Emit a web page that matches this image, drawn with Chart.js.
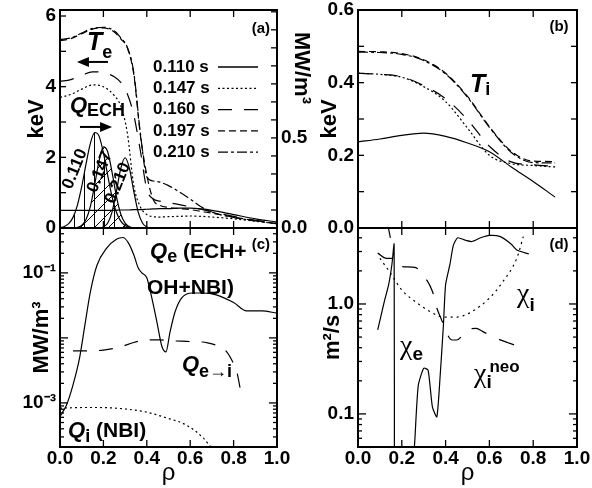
<!DOCTYPE html>
<html>
<head>
<meta charset="utf-8">
<title>Te, Ti, power density and diffusivity profiles</title>
<script src="https://cdn.jsdelivr.net/npm/chart.js@4.4.1/dist/chart.umd.min.js"></script>
<style>
  body { margin: 0; background: #fff; }
  #fig { position: relative; width: 592px; height: 488px; }
  #fig canvas { position: absolute; left: 0; top: 0; }
</style>
</head>
<body>
<div id="fig">
  <canvas id="panelA" width="592" height="488"></canvas>
  <canvas id="panelB" width="592" height="488"></canvas>
  <canvas id="panelC" width="592" height="488"></canvas>
  <canvas id="panelD" width="592" height="488"></canvas>
</div>
<script>
// ---- values ----
const rhoTicks = [0, 0.2, 0.4, 0.6, 0.8, 1.0];
const times = ['0.110 s', '0.147 s', '0.160 s', '0.197 s', '0.210 s'];

// (a) electron temperature, keV
const rhoTe = [0, 0.05, 0.1, 0.15, 0.2, 0.25, 0.28, 0.31, 0.34, 0.37, 0.4, 0.43, 0.46, 0.5, 0.55, 0.6, 0.65, 0.7, 0.8, 0.9, 1.0];
const te110 = [0.5, 0.5, 0.5, 0.5, 0.5, 0.5, 0.51, 0.51, 0.52, 0.52, 0.53, 0.54, 0.55, 0.55, 0.56, 0.56, 0.54, 0.5, 0.38, 0.26, 0.17];
const te147 = [3.7, 3.78, 3.93, 4.05, 4.0, 3.75, 3.45, 2.7, 1.2, 0.6, 0.38, 0.32, 0.31, 0.32, 0.33, 0.34, 0.33, 0.31, 0.26, 0.19, 0.12];
const te160 = [4.15, 4.2, 4.32, 4.42, 4.4, 4.28, 4.12, 3.8, 3.2, 2.2, 1.1, 0.82, 0.76, 0.72, 0.66, 0.6, 0.53, 0.46, 0.33, 0.22, 0.14];
const te197 = [5.3, 5.36, 5.5, 5.63, 5.66, 5.55, 5.35, 5.1, 4.35, 2.65, 1.5, 0.8, 0.64, 0.58, 0.55, 0.52, 0.47, 0.42, 0.31, 0.21, 0.13];
const te210 = [5.33, 5.38, 5.52, 5.65, 5.68, 5.58, 5.38, 5.12, 4.4, 2.7, 1.45, 1.33, 1.3, 1.2, 1.02, 0.82, 0.6, 0.45, 0.3, 0.2, 0.12];

// (a) ECH power deposition, MW/m3
const rhoQ = [0, 0.02, 0.04, 0.06, 0.08, 0.1, 0.12, 0.14, 0.16, 0.18, 0.2, 0.22, 0.24, 0.26, 0.28, 0.3, 0.32, 0.34, 0.36, 0.38, 0.4, 0.42];
const qech110 = [0.002, 0.008, 0.024, 0.059, 0.126, 0.229, 0.356, 0.47, 0.53, 0.51, 0.418, 0.291, 0.173, 0.087, 0.038, 0.014, 0.004, 0.001, 0, 0, 0, 0];
const qech147 = [0, 0, 0, 0.001, 0.003, 0.014, 0.047, 0.12, 0.241, 0.373, 0.45, 0.422, 0.309, 0.176, 0.078, 0.027, 0.007, 0.002, 0, 0, 0, 0];
const qech210 = [0, 0, 0, 0, 0, 0, 0, 0, 0, 0.001, 0.006, 0.028, 0.09, 0.203, 0.331, 0.39, 0.331, 0.203, 0.09, 0.028, 0.006, 0.001];

// (b) ion temperature, keV
const rhoTi = [0, 0.1, 0.2, 0.3, 0.4, 0.5, 0.6, 0.7, 0.8, 0.9];
const ti110 = [0.237, 0.245, 0.255, 0.261, 0.252, 0.234, 0.21, 0.168, 0.128, 0.085];
const ti147 = [0.426, 0.423, 0.415, 0.389, 0.348, 0.275, 0.2, 0.177, 0.172, 0.168];
const ti160 = [0.426, 0.423, 0.416, 0.392, 0.356, 0.298, 0.225, 0.182, 0.174, 0.17];
const ti197 = [0.486, 0.485, 0.48, 0.463, 0.426, 0.362, 0.279, 0.211, 0.184, 0.183];
const ti210 = [0.484, 0.483, 0.478, 0.461, 0.424, 0.36, 0.277, 0.208, 0.18, 0.179];

// (c) power densities, MW/m3
const rhoQe = [0, 0.03, 0.06, 0.09, 0.115, 0.14, 0.17, 0.215, 0.26, 0.29, 0.315, 0.34, 0.36, 0.377, 0.4, 0.42, 0.446, 0.47, 0.488, 0.507, 0.53, 0.56, 0.61, 0.66, 0.72, 0.8, 0.86, 0.93, 1.0];
const qe = [6.2e-4, 9.3e-4, 1.9e-3, 4.9e-3, 0.016, 0.051, 0.13, 0.24, 0.33, 0.35, 0.29, 0.19, 0.12, 0.10, 0.084, 0.046, 0.018, 7.3e-3, 6.1e-3, 0.0123, 0.025, 0.041, 0.049, 0.049, 0.046, 0.035, 0.026, 0.026, 0.024];
const rhoQei = [0.06, 0.12, 0.2, 0.28, 0.34, 0.4, 0.46, 0.52, 0.6, 0.68, 0.74, 0.77, 0.8, 0.815, 0.83];
const qei = [6.3e-3, 6.3e-3, 6.5e-3, 7.3e-3, 8.5e-3, 9.3e-3, 9.3e-3, 9.0e-3, 8.8e-3, 8.4e-3, 7.2e-3, 6.0e-3, 4.0e-3, 3.0e-3, 1.7e-3];
const rhoQi = [0, 0.1, 0.18, 0.31, 0.4, 0.49, 0.58, 0.66, 0.69, 0.72];
const qi = [8.3e-4, 8.5e-4, 8.5e-4, 8.0e-4, 7.2e-4, 5.9e-4, 4.6e-4, 2.9e-4, 2.2e-4, 1.8e-4];

// (d) diffusivities, m2/s (null = break in the curve)
const rhoChiE = [0.09, 0.12, 0.14, 0.155, 0.165, 0.166, 0.17, 0.13, 0.148, 0.2, 0.245, 0.26, 0.275, 0.3, 0.32, 0.34, 0.36, 0.375, 0.39, 0.4, 0.42, 0.435, 0.455, 0.49, 0.52, 0.56, 0.6, 0.65, 0.7, 0.725, 0.78];
const chiE = [0.58, 1.05, 1.5, 2.3, 3.5, 0.01, null, 6, 4.0, null, 0.02, 0.06, 0.18, 0.26, 0.25, 0.115, 0.094, 0.22, 0.64, 1.5, 2.3, 3.4, 4.0, 3.8, 3.7, 4.0, 4.2, 4.1, 3.5, 3.1, 2.85];
const rhoChiI = [0.1, 0.145, 0.2, 0.27, 0.33, 0.39, 0.45, 0.51, 0.6, 0.66, 0.725, 0.755];
const chiI = [2.6, 1.95, 1.34, 1.02, 0.85, 0.76, 0.76, 0.83, 1.13, 1.58, 2.6, 4.1];
const rhoChiNeo = [0.09, 0.13, 0.16, 0.19, 0.26, 0.3, 0.34, 0.36, 0.385, 0.4, 0.43, 0.45, 0.5, 0.54, 0.57, 0.63, 0.69, 0.75];
const chiNeo = [2.9, 2.6, 2.6, 2.2, 2.15, 1.8, 1.3, 0.92, 0.69, 0.57, 0.47, 0.47, 0.58, 0.6, 0.56, 0.49, 0.44, 0.4];

// labelled ticks
const teTicks = [0, 2, 4, 6];
const qechTicks = [0, 0.5];
const tiTicks = [0, 0.2, 0.4, 0.6];
const powerTicks = [1e-3, 1e-1];
const chiTicks = [0.1, 1];

// ---- styles ----
const FAMILY = '"Liberation Sans", Arial, sans-serif';
const font = (size, style = 'bold', family = FAMILY) => `${style} ${size}px ${family}`;
const chiFont = font(28, 'normal', '"Liberation Serif", serif');
const tickFont = { size: 19, weight: 'bold', lineHeight: 1 };
const titleFont = { size: 22, weight: 'bold' };
const dashes = [[], [2, 2.5], [14, 12], [7, 4], [10, 3, 3, 3]];
const hiddenGrid = { display: true, drawOnChartArea: false, drawTicks: true, tickLength: 4, color: 'rgba(0,0,0,0)' };

Chart.defaults.font.family = FAMILY;
Chart.defaults.color = '#000';

function hatch(size, draw) {
  const c = document.createElement('canvas');
  c.width = c.height = size;
  const g = c.getContext('2d');
  g.strokeStyle = '#000';
  g.lineWidth = 1;
  g.beginPath();
  draw(g, size);
  g.stroke();
  return g.createPattern(c, 'repeat');
}
const vHatch = hatch(10, (g, s) => { g.moveTo(4.5, 0); g.lineTo(4.5, s); });
const dHatch = hatch(14, (g, s) => { g.moveTo(0, s); g.lineTo(s, 0); });

function curve(xs, ys, dash, extra = {}) {
  return Object.assign({
    data: xs.map((x, i) => ({ x, y: ys[i] })),
    yAxisID: 'y',
    borderColor: '#000',
    borderWidth: 1.2,
    borderDash: dash,
    pointRadius: 0,
    fill: false,
    cubicInterpolationMode: 'monotone'
  }, extra);
}

function xAxis(show) {
  return {
    type: 'linear', min: 0, max: 1, display: show,
    grid: Object.assign({}, hiddenGrid, { tickLength: 2 }),
    border: { display: false },
    afterBuildTicks: s => { s.ticks = rhoTicks.map(v => ({ value: v })); },
    afterFit: s => { s.height = show ? 41 : 0; },
    ticks: { font: tickFont, padding: 0, autoSkip: false, maxRotation: 0, callback: v => v.toFixed(1) },
    title: { display: true, text: 'ρ', font: { size: 24, weight: 'normal' }, padding: { top: 0, bottom: 0 } }
  };
}

function yAxis(o) {
  return {
    type: o.log ? 'logarithmic' : 'linear',
    position: o.pos || 'left',
    min: o.min, max: o.max,
    grid: hiddenGrid,
    border: { display: false },
    afterBuildTicks: s => { s.ticks = o.ticks.map(v => ({ value: v })); },
    afterFit: s => { s.width = o.width; },
    ticks: { font: tickFont, padding: 0, autoSkip: false, callback: o.fmt },
    title: o.title
      ? { display: true, text: o.title, font: titleFont, padding: { top: o.titlePad, bottom: 0 } }
      : { display: false }
  };
}

// inward tick marks on all four sides plus the frame
function framePlugin(sides) {
  return {
    id: 'frame',
    afterDatasetsDraw(chart) {
      const { ctx, chartArea: a, scales } = chart;
      const seg = (x0, y0, x1, y1) => { ctx.beginPath(); ctx.moveTo(x0, y0); ctx.lineTo(x1, y1); ctx.stroke(); };
      ctx.save();
      ctx.strokeStyle = '#000';
      ctx.lineWidth = 1.3;
      rhoTicks.forEach(v => {
        const p = scales.x.getPixelForValue(v);
        seg(p, a.bottom, p, a.bottom - 7);
        seg(p, a.top, p, a.top + 7);
      });
      sides.forEach(s => {
        const sc = scales[s.id];
        const marks = [];
        if (s.log) {
          for (let e = Math.floor(Math.log10(sc.min)); e <= Math.ceil(Math.log10(sc.max)); e++) {
            for (let m = 1; m < 10; m++) marks.push([m * Math.pow(10, e), m === 1 ? 8 : 4]);
          }
        } else {
          for (let k = 0; k * s.step <= sc.max + 1e-9; k++) marks.push([k * s.step, 6]);
        }
        marks.forEach(([v, len]) => {
          if (v < sc.min || v > sc.max) return;
          const p = sc.getPixelForValue(v);
          if (s.left) seg(a.left, p, a.left + len, p);
          if (s.right) seg(a.right, p, a.right - len, p);
        });
      });
      ctx.lineWidth = 2;
      ctx.strokeRect(a.left, a.top, a.width, a.height);
      ctx.restore();
    }
  };
}

function rich(ctx, parts, align) {
  let w = 0;
  parts.forEach(p => { ctx.font = p[1]; w += ctx.measureText(p[0]).width; });
  let cx = align === 'center' ? -w / 2 : 0;
  parts.forEach(p => {
    ctx.font = p[1];
    ctx.fillText(p[0], cx, p[2] || 0);
    cx += ctx.measureText(p[0]).width;
  });
}

// labels, arrows and the in-plot legend
function notesPlugin(spec) {
  return {
    id: 'notes',
    afterDraw(chart) {
      const { ctx, chartArea: a, scales } = chart;
      ctx.save();
      ctx.fillStyle = '#000';
      ctx.strokeStyle = '#000';
      (spec.texts || []).forEach(n => {
        ctx.save();
        ctx.translate(scales.x.getPixelForValue(n.x), scales[n.ax || 'y'].getPixelForValue(n.y));
        if (n.rot) ctx.rotate(n.rot * Math.PI / 180);
        ctx.textBaseline = n.base || 'alphabetic';
        rich(ctx, n.parts, n.align);
        ctx.restore();
      });
      (spec.arrows || []).forEach(r => {
        const y = scales.y.getPixelForValue(r.y);
        const x0 = scales.x.getPixelForValue(r.from);
        const x1 = scales.x.getPixelForValue(r.to);
        const d = Math.sign(x1 - x0);
        ctx.lineWidth = 2;
        ctx.beginPath(); ctx.moveTo(x0, y); ctx.lineTo(x1 - d * 8, y); ctx.stroke();
        ctx.beginPath(); ctx.moveTo(x1, y); ctx.lineTo(x1 - d * 12, y - 5); ctx.lineTo(x1 - d * 12, y + 5); ctx.closePath(); ctx.fill();
      });
      const L = spec.legend;
      if (L) {
        L.items.forEach((idx, i) => {
          const ds = chart.data.datasets[idx];
          const yy = a.top + L.top + i * L.row;
          ctx.font = font(17);
          ctx.textBaseline = 'middle';
          ctx.fillText(ds.label, a.left + L.left, yy);
          ctx.lineWidth = 1.3;
          ctx.setLineDash(ds.borderDash);
          ctx.beginPath(); ctx.moveTo(a.left + L.x0, yy); ctx.lineTo(a.left + L.x1, yy); ctx.stroke();
          ctx.setLineDash([]);
        });
      }
      ctx.restore();
    }
  };
}

const baseOptions = (padding, scales) => ({
  responsive: false,
  animation: false,
  layout: { padding },
  scales,
  plugins: { legend: { display: false }, tooltip: { enabled: false } }
});

// ---- (a) Te and Q_ECH ----
new Chart(document.getElementById('panelA'), {
  type: 'line',
  data: {
    datasets: [
      curve(rhoTe, te110, dashes[0], { label: times[0] }),
      curve(rhoTe, te147, dashes[1], { label: times[1] }),
      curve(rhoTe, te160, dashes[2], { label: times[2] }),
      curve(rhoTe, te197, dashes[3], { label: times[3] }),
      curve(rhoTe, te210, dashes[4], { label: times[4] }),
      curve(rhoQ, qech110, [], { yAxisID: 'y2', fill: 'origin', backgroundColor: vHatch }),
      curve(rhoQ, qech147, [], { yAxisID: 'y2', fill: 'origin', backgroundColor: dHatch }),
      curve(rhoQ, qech210, [], { yAxisID: 'y2' })
    ]
  },
  options: baseOptions({ left: 10, right: 273, top: 10, bottom: 260 }, {
    x: xAxis(false),
    y: yAxis({ min: 0, max: 6.17, ticks: teTicks, width: 50, title: 'keV', titlePad: 14, fmt: v => String(v) }),
    y2: yAxis({ pos: 'right', min: 0, max: 1.21, ticks: qechTicks, width: 42, fmt: v => v.toFixed(1) })
  }),
  plugins: [
    framePlugin([{ id: 'y', step: 1, left: true }, { id: 'y2', step: 0.1, right: true }]),
    notesPlugin({
      texts: [
        { x: 0.926, y: 5.65, align: 'center', base: 'middle', parts: [['(a)', font(15)]] },
        { x: 0.124, y: 5.04, parts: [['T', font(25, 'italic bold')], ['e', font(18), 8]] },
        { x: 0.046, y: 3.28, parts: [['Q', font(22, 'italic bold')], ['ECH', font(18), 4]] },
        { x: 0.069, y: 1.67, rot: -68, align: 'center', base: 'middle', parts: [['0.110', font(17)]] },
        { x: 0.184, y: 1.585, rot: -68, align: 'center', base: 'middle', parts: [['0.147', font(17)]] },
        { x: 0.267, y: 1.27, rot: -68, align: 'center', base: 'middle', parts: [['0.210', font(17)]] },
        { x: 1.111, y: 5.55, rot: 90, base: 'middle', parts: [['MW/m³', font(22)]] }
      ],
      arrows: [{ from: 0.221, to: 0.078, y: 4.70 }, { from: 0.092, to: 0.240, y: 2.86 }],
      legend: { items: [0, 1, 2, 3, 4], left: 93, top: 57, row: 21.3, x0: 158, x1: 198 }
    })
  ]
});

// ---- (b) Ti ----
new Chart(document.getElementById('panelB'), {
  type: 'line',
  data: {
    datasets: [
      curve(rhoTi, ti110, dashes[0]),
      curve(rhoTi, ti147, dashes[1]),
      curve(rhoTi, ti160, dashes[2]),
      curve(rhoTi, ti197, dashes[3]),
      curve(rhoTi, ti210, dashes[4])
    ]
  },
  options: baseOptions({ left: 308, right: 15, top: 10, bottom: 260 }, {
    x: xAxis(false),
    y: yAxis({ min: 0, max: 0.6, ticks: tiTicks, width: 50, title: 'keV', titlePad: 9, fmt: v => v.toFixed(1) })
  }),
  plugins: [
    framePlugin([{ id: 'y', step: 0.1, left: true, right: true }]),
    notesPlugin({
      texts: [
        { x: 0.918, y: 0.554, align: 'center', base: 'middle', parts: [['(b)', font(15)]] },
        { x: 0.511, y: 0.375, parts: [['T', font(25, 'italic bold')], ['i', font(18), 3]] }
      ]
    })
  ]
});

// ---- (c) power densities ----
new Chart(document.getElementById('panelC'), {
  type: 'line',
  data: {
    datasets: [
      curve(rhoQe, qe, []),
      curve(rhoQei, qei, [14, 12]),
      curve(rhoQi, qi, [2, 3])
    ]
  },
  options: baseOptions({ left: 10, right: 315, top: 228, bottom: 0 }, {
    x: xAxis(true),
    y: yAxis({ log: true, min: 2.1e-4, max: 0.49, ticks: powerTicks, width: 50, title: 'MW/m³', titlePad: 19,
               fmt: v => (v === 1e-1 ? '10⁻¹' : '10⁻³') })
  }),
  plugins: [
    framePlugin([{ id: 'y', log: true, left: true, right: true }]),
    notesPlugin({
      texts: [
        { x: 0.926, y: 0.27, align: 'center', base: 'middle', parts: [['(c)', font(15)]] },
        { x: 0.415, y: 0.17, parts: [['Q', font(22, 'italic bold')], ['e', font(18), 4], [' (ECH+', font(21)]] },
        { x: 0.401, y: 0.0475, parts: [['OH+NBI)', font(21)]] },
        { x: 0.562, y: 3.1e-3, parts: [['Q', font(22, 'italic bold')], ['e→i', font(18), 6]] },
        { x: 0.037, y: 3.0e-4, parts: [['Q', font(22, 'italic bold')], ['i', font(18), 5], [' (NBI)', font(21)]] }
      ]
    })
  ]
});

// ---- (d) diffusivities ----
new Chart(document.getElementById('panelD'), {
  type: 'line',
  data: {
    datasets: [
      curve(rhoChiE, chiE, [], { cubicInterpolationMode: 'default', tension: 0.2 }),
      curve(rhoChiI, chiI, [2, 4]),
      curve(rhoChiNeo, chiNeo, [16, 14])
    ]
  },
  options: baseOptions({ left: 308, right: 15, top: 228, bottom: 0 }, {
    x: xAxis(true),
    y: yAxis({ log: true, min: 0.05, max: 4.91, ticks: chiTicks, width: 50, title: 'm²/s', titlePad: 12,
               fmt: v => v.toFixed(1) })
  }),
  plugins: [
    framePlugin([{ id: 'y', log: true, left: true, right: true }]),
    notesPlugin({
      texts: [
        { x: 0.918, y: 3.44, align: 'center', base: 'middle', parts: [['(d)', font(15)]] },
        { x: 0.726, y: 1.04, parts: [['χ', chiFont], ['i', font(19), 9]] },
        { x: 0.192, y: 0.351, parts: [['χ', chiFont], ['e', font(19), 6]] },
        { x: 0.53, y: 0.195, parts: [['χ', chiFont], ['i', font(19), 6]] },
        { x: 0.6, y: 0.241, parts: [['neo', font(17)]] }
      ]
    })
  ]
});
</script>
</body>
</html>
